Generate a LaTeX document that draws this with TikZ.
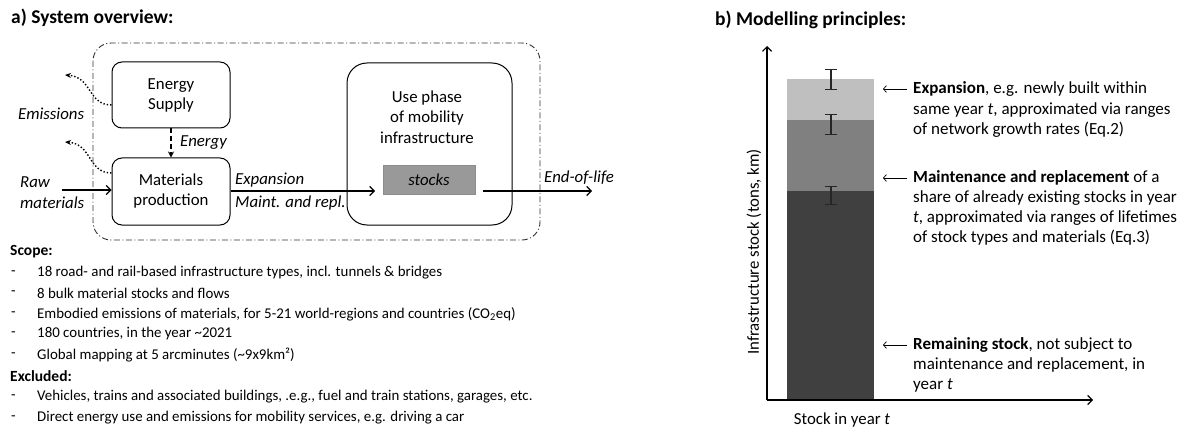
\documentclass[tikz,border=0pt]{standalone}
\usepackage{fontspec}
\setmainfont{Carlito}
\usetikzlibrary{arrows.meta}
\begin{document}
\begin{tikzpicture}[x=1pt,y=-1pt,
  box/.style={draw,line width=1pt,rounded corners=10pt,align=center,
    font=\fontsize{16.8}{20}\selectfont,inner sep=0pt},
  flow/.style={line width=1.4pt,-{Straight Barb[length=4.5pt,width=9pt,line width=1.2pt]}},
  emis/.style={dotted,line width=1.4pt,-{Stealth[length=6pt,width=5pt]}},
  lab/.style={font=\fontsize{16.8}{18}\selectfont\itshape,inner sep=0pt},
  item/.style={anchor=west,inner sep=0pt,font=\fontsize{14.9}{16}\selectfont},
  head/.style={anchor=west,inner sep=0pt,font=\fontsize{15.5}{16}\selectfont\bfseries},
  title/.style={anchor=west,inner sep=0pt,font=\fontsize{19.5}{20}\selectfont\bfseries},
  note/.style={anchor=west,inner sep=0pt,font=\fontsize{17}{18}\selectfont},
  pointer/.style={line width=0.7pt,-{Straight Barb[length=3pt,width=7pt,line width=0.7pt]}},
  errbar/.style={line width=1.2pt,black!85,{Bar[width=12pt]}-{Bar[width=12pt]}}]
\useasboundingbox (0,0) rectangle (1186,433);

% ---------- a) system overview ----------
\node[title] (ta) at (11,18) {a) System overview:};

% system boundary
\draw[dash pattern=on 6pt off 2.5pt on 1pt off 2.5pt,line width=0.9pt,black!80,rounded corners=18pt] (93,43) rectangle (540,240);

\node[box,minimum width=118pt,minimum height=66pt] (es) at (171,95) {Energy\\Supply};
\node[box,minimum width=118pt,minimum height=67pt] (mp) at (171,191.5) {Materials\\production};
\node[box,rounded corners=20pt,minimum width=165pt,minimum height=162pt] (up) at (429.5,144) {};
\node[align=center,inner sep=0pt,font=\fontsize{16.8}{20.5}\selectfont] (uptext) at (427,117) {Use phase\\of mobility\\infrastructure};
\node[draw=black!45,fill=black!40,minimum width=92pt,minimum height=29pt,inner sep=0pt,
  font=\fontsize{16.8}{18}\selectfont\itshape] (st) at (429,179.5) {stocks};

% energy supply into materials production
\draw[dash pattern=on 5pt off 3pt,line width=1.3pt,-{Stealth[length=6pt,width=6pt]}] (es.south) -- (mp.north);
\node[lab,anchor=west] (el) at (180,143) {Energy};

% emissions
\coordinate (e1) at (65,75);
\coordinate (e2) at (65,142);
\draw[emis] (es.west |- 0,105) .. controls (88,105) and (92,77) .. (e1);
\draw[emis] (mp.west |- 0,173) .. controls (88,173) and (92,144) .. (e2);
\node[lab,anchor=west] (eml) at (18,114) {Emissions};

% raw materials in
\coordinate (rm) at (62,190);
\draw[flow] (rm) -- (mp.west |- rm);
\node[lab,anchor=west] (rl1) at (20,182) {Raw};
\node[lab,anchor=west] (rl2) at (20,203) {materials};

% expansion / maintenance flow
\coordinate (ex) at (375,191);
\draw[flow] (mp.east |- ex) -- (ex);
\node[lab,anchor=west] (xl1) at (235,180) {Expansion};
\node[lab,anchor=west] (xl2) at (235,203) {Maint. and repl.};

% end of life
\coordinate (eolA) at (483,191);
\coordinate (eolB) at (592,191);
\draw[flow] (eolA) -- (eolB);
\node[lab,anchor=west] (eoll) at (544,178) {End-of-life};

% scope list
\node[head] (sc) at (10,252) {Scope:};
\foreach \yy/\nm/\txt in {
  273/s1/{18 road- and rail-based infrastructure types, incl. tunnels \& bridges},
  293/s2/{8 bulk material stocks and flows},
  314/s3/{Embodied emissions of materials, for 5-21 world-regions and countries (CO\textsubscript{2}eq)},
  334/s4/{180 countries, in the year \textasciitilde2021},
  355/s5/{Global mapping at 5 arcminutes (\textasciitilde9x9km²)},
  397/x1/{Vehicles, trains and associated buildings, .e.g., fuel and train stations, garages, etc.},
  418/x2/{Direct energy use and emissions for mobility services, e.g. driving a car}}{
  \node[item] (d\nm) at (11,\yy) {-};
  \node[item] (\nm) at (37,\yy) {\txt};
}
\node[head] (exc) at (10,376) {Excluded:};

% ---------- b) modelling principles ----------
\node[title] (tb) at (715,20) {b) Modelling principles:};

% stacked bar
\fill[black!75] (787,191) rectangle (874,400);
\fill[black!50] (787,120) rectangle (874,191);
\fill[black!25] (787,79) rectangle (874,120);
\draw[errbar] (831,69) -- (831,90);
\draw[errbar] (831,114) -- (831,135);
\draw[errbar] (831,186) -- (831,205);

% axes
\coordinate (org) at (767,400);
\coordinate (ytop) at (767,46);
\coordinate (xend) at (1093,400);
\draw[line width=1.3pt,-{Straight Barb[length=4.5pt,width=9pt,line width=1.2pt]}] (org) -- (ytop);
\draw[line width=1.3pt,-{Straight Barb[length=4.5pt,width=9pt,line width=1.2pt]}] (org) -- (xend);
\node[rotate=90,inner sep=0pt,font=\fontsize{16.8}{18}\selectfont] (yl) at (754,252) {Infrastructure stock (tons, km)};
\node[inner sep=0pt,font=\fontsize{16.8}{18}\selectfont] (xl) at (842,420) {Stock in year \textit{t}};

% annotations
\coordinate (p1) at (907,89);
\coordinate (p1e) at (883,89);
\coordinate (p2) at (907,178);
\coordinate (p2e) at (883,178);
\coordinate (p3) at (907,345);
\coordinate (p3e) at (883,345);
\draw[pointer] (p1) -- (p1e);
\draw[pointer] (p2) -- (p2e);
\draw[pointer] (p3) -- (p3e);

\node[note] (n11) at (913,89) {\textbf{Expansion}, e.g. newly built within};
\node[note] (n12) at (913,110) {same year \textit{t}, approximated via ranges};
\node[note] (n13) at (913,130) {of network growth rates (Eq.2)};
\node[note] (n21) at (913,178) {\textbf{Maintenance and replacement} of a};
\node[note] (n22) at (913,198) {share of already existing stocks in year};
\node[note] (n23) at (913,218) {\textit{t}, approximated via ranges of lifetimes};
\node[note] (n24) at (913,238) {of stock types and materials (Eq.3)};
\node[note] (n31) at (913,345) {\textbf{Remaining stock}, not subject to};
\node[note] (n32) at (913,365) {maintenance and replacement, in};
\node[note] (n33) at (913,385) {year \textit{t}};
\end{tikzpicture}
\end{document}
